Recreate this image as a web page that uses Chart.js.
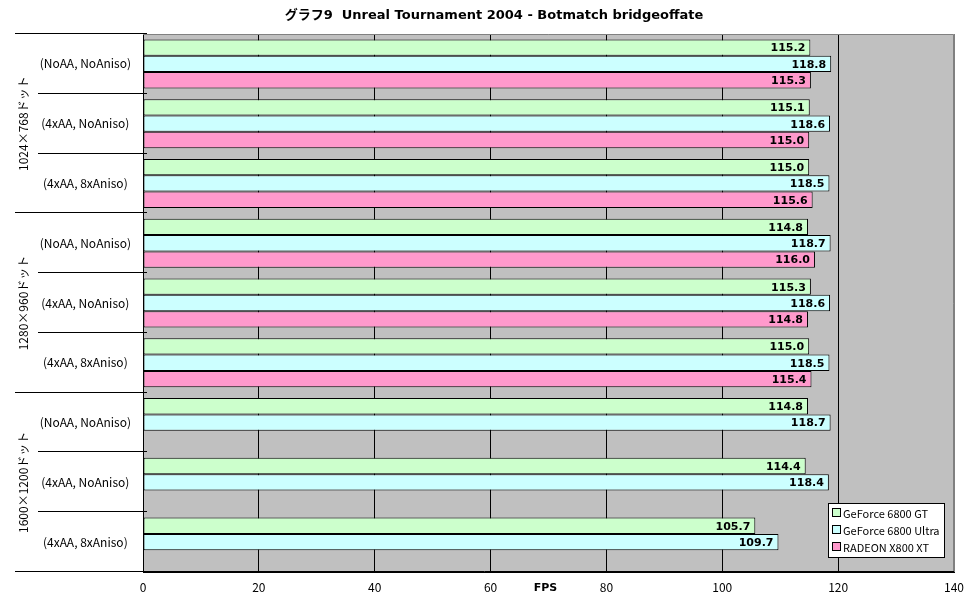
<!DOCTYPE html>
<html><head><meta charset="utf-8">
<script src="https://cdn.jsdelivr.net/npm/chart.js@4/dist/chart.umd.min.js"></script>
<style>html,body{margin:0;padding:0;background:#fff}#wrap{width:972px;height:604px}</style>
</head><body><div id="wrap"><canvas id="c" width="972" height="604"></canvas></div>
<script>
const chartTitle = "グラフ9  Unreal Tournament 2004 - Botmatch bridgeoffate";
const axisTitle = "FPS";
const groups = ["1024×768ドット", "1280×960ドット", "1600×1200ドット"];
const categories = ["(NoAA, NoAniso)", "(4xAA, NoAniso)", "(4xAA, 8xAniso)",
                    "(NoAA, NoAniso)", "(4xAA, NoAniso)", "(4xAA, 8xAniso)",
                    "(NoAA, NoAniso)", "(4xAA, NoAniso)", "(4xAA, 8xAniso)"];
const seriesNames = ["GeForce 6800 GT", "GeForce 6800 Ultra", "RADEON X800 XT"];
const gtValues     = [115.2, 115.1, 115.0, 114.8, 115.3, 115.0, 114.8, 114.4, 105.7];
const ultraValues  = [118.8, 118.6, 118.5, 118.7, 118.6, 118.5, 118.7, 118.4, 109.7];
const radeonValues = [115.3, 115.0, 115.6, 116.0, 114.8, 115.4, null, null, null];
const xTicks = [0, 20, 40, 60, 80, 100, 120, 140];

const colors = ["#CCFFCC", "#CCFFFF", "#FF99CC"];
const FONT = '"MS PGothic", "Noto Sans CJK JP", sans-serif';
const WFONT = '"DejaVu Sans", "Noto Sans CJK JP", sans-serif';

const deco = {
  id: 'deco',
  beforeDraw(chart) {
    const {ctx, chartArea: a} = chart;
    ctx.save();
    ctx.fillStyle = '#C0C0C0';
    ctx.fillRect(a.left, a.top, a.right - a.left, a.bottom - a.top);
    ctx.restore();
  },
  afterDraw(chart) {
    const {ctx, chartArea: a} = chart;
    const y = chart.scales.y;
    ctx.save();
    ctx.strokeStyle = '#808080';
    ctx.lineWidth = 1;
    ctx.beginPath();
    ctx.moveTo(a.left, a.top + 0.5); ctx.lineTo(a.right - 0.5, a.top + 0.5); ctx.lineTo(a.right - 0.5, a.bottom);
    ctx.stroke();
    const n = categories.length;
    const step = (a.bottom - a.top) / n;
    ctx.strokeStyle = '#000';
    for (let i = 0; i <= n; i++) {
      const yy = Math.round(i < n ? y.getPixelForValue(i) - step / 2 : y.getPixelForValue(n - 1) + step / 2) - 0.5;
      const x0 = (i % 3 === 0) ? 15 : 38;
      ctx.beginPath();
      ctx.moveTo(x0, yy); ctx.lineTo(i === n ? a.right : a.left + 4, yy);
      ctx.stroke();
    }
    ctx.fillStyle = '#000';
    ctx.font = '12px ' + FONT;
    ctx.textAlign = 'center';
    ctx.textBaseline = 'middle';
    groups.forEach((g, gi) => {
      const cy = (y.getPixelForValue(gi * 3) + y.getPixelForValue(gi * 3 + 2)) / 2;
      ctx.save();
      ctx.translate(23, cy);
      ctx.rotate(-Math.PI / 2);
      ctx.fillText(g, 0, 0);
      ctx.restore();
    });
    ctx.font = 'bold 11px ' + WFONT;
    ctx.textAlign = 'right';
    chart.data.datasets.forEach((ds, di) => {
      const meta = chart.getDatasetMeta(di);
      meta.data.forEach((bar, i) => {
        const v = ds.data[i];
        if (v === null || v === undefined) return;
        ctx.fillText(v.toFixed(1), bar.x - 5, bar.y + 1);
      });
    });
    ctx.textAlign = 'center';
    ctx.fillText(axisTitle, (a.left + a.right) / 2 - 3, 588);
    ctx.font = 'bold 13px ' + WFONT;
    ctx.fillText(chartTitle, 494, 16);
    const lx = 828, ly = 503, lw = 116, lh = 54;
    ctx.fillStyle = '#fff';
    ctx.fillRect(lx, ly, lw, lh);
    ctx.strokeStyle = '#000';
    ctx.strokeRect(lx + 0.5, ly + 0.5, lw, lh);
    ctx.font = '11px ' + FONT;
    ctx.textAlign = 'left';
    seriesNames.forEach((s, i) => {
      const ry = ly + 10 + i * 17;
      ctx.fillStyle = colors[i];
      ctx.fillRect(lx + 4.5, ry - 4.5, 8, 8);
      ctx.strokeRect(lx + 4.5, ry - 4.5, 8, 8);
      ctx.fillStyle = '#000';
      ctx.fillText(s, lx + 15, ry + 1);
    });
    ctx.restore();
  }
};

new Chart(document.getElementById('c'), {
  type: 'bar',
  data: {
    labels: categories,
    datasets: [gtValues, ultraValues, radeonValues].map((d, i) => ({
      label: seriesNames[i],
      data: d,
      backgroundColor: colors[i],
      borderColor: '#000',
      borderWidth: 1,
      borderSkipped: false,
      categoryPercentage: 0.82,
      barPercentage: 1.0
    }))
  },
  options: {
    indexAxis: 'y',
    responsive: false,
    animation: false,
    layout: {padding: {top: 34, right: 18, left: 0, bottom: 0}},
    plugins: {legend: {display: false}, title: {display: false}, tooltip: {enabled: false}},
    scales: {
      x: {
        min: 0, max: 140,
        afterBuildTicks(s) { s.ticks = xTicks.map(v => ({value: v})); },
        afterFit(s) { s.height = 32; },
        grid: {
          color: ctx => (ctx.tick && ctx.tick.value === 140) ? '#808080' : '#000',
          lineWidth: 1, drawTicks: false
        },
        border: {color: '#000', width: 1},
        ticks: {color: '#000', font: {family: FONT, size: 12}, padding: 8, maxRotation: 0, autoSkip: false}
      },
      y: {
        afterFit(s) { s.width = 143; },
        grid: {display: false, drawTicks: false},
        border: {color: '#000', width: 1},
        ticks: {color: '#000', font: {family: FONT, size: 12}, padding: 12, crossAlign: 'center', autoSkip: false}
      }
    }
  },
  plugins: [deco]
});
</script></body></html>
